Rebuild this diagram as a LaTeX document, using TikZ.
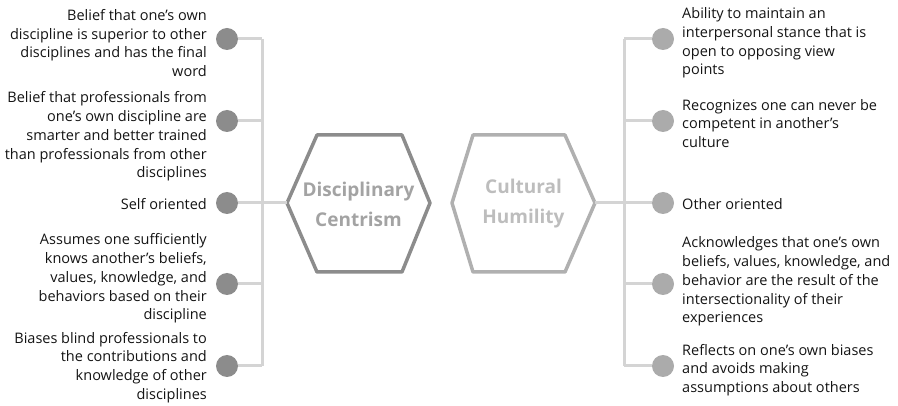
\documentclass[tikz,border=0pt]{standalone}
\usepackage{fontspec}
\setmainfont{Open Sans}
\usetikzlibrary{positioning}
\definecolor{dotdark}{HTML}{8C8C8C}
\definecolor{dotlight}{HTML}{ABABAB}
\definecolor{hexdark}{HTML}{8C8C8C}
\definecolor{hexlight}{HTML}{B0B0B0}
\definecolor{titledark}{HTML}{A3A3A3}
\definecolor{titlelight}{HTML}{BDBDBD}
\definecolor{branch}{HTML}{D4D4D4}
\newcommand{\itemfont}{\fontsize{14.5}{18.8}\selectfont}
\newcommand{\titlefont}{\fontsize{19}{30}\selectfont\bfseries}

\tikzset{
  dotL/.style={circle, fill=dotdark, minimum size=22pt, inner sep=0pt},
  dotR/.style={circle, fill=dotlight, minimum size=22pt, inner sep=0pt},
  textL/.style={anchor=east, align=right, inner sep=0pt, font=\itemfont, text=black!92},
  textR/.style={anchor=west, align=left, inner sep=0pt, font=\itemfont, text=black!92},
  branchline/.style={draw=branch, line width=3pt},
  hexline/.style={line width=3.5pt, line join=round},
}

\begin{document}
\begin{tikzpicture}[x=1pt, y=-1pt]
  \useasboundingbox (0,0) rectangle (898,406);

  % spines
  \coordinate (spineLtop) at (262,39);
  \coordinate (spineLbot) at (262,366);
  \coordinate (spineRtop) at (624,39);
  \coordinate (spineRbot) at (624,366);
  \draw[branchline] (spineLtop) -- (spineLbot);
  \draw[branchline] (spineRtop) -- (spineRbot);

  % hexagon: Disciplinary Centrism
  \coordinate (dcW) at (287,203);
  \coordinate (dcE) at (430,203);
  \draw[hexline, draw=hexdark] (dcW) -- (317,135) -- (402,135) -- (dcE) -- (402,272) -- (317,272) -- cycle;
  \node[font=\titlefont, text=titledark, align=center] (dcTitle) at (358.5,204) {Disciplinary\\Centrism};

  % hexagon: Cultural Humility
  \coordinate (chW) at (452,203);
  \coordinate (chE) at (595,203);
  \draw[hexline, draw=hexlight] (chW) -- (473,135) -- (565,135) -- (chE) -- (565,272) -- (473,272) -- cycle;
  \node[font=\titlefont, text=titlelight, align=center] (chTitle) at (523.5,204) {Cultural\\Humility};

  % hexagons to spines
  \draw[branchline] (dcW) -- (dcW -| spineLtop);
  \draw[branchline] (chE) -- (chE -| spineRtop);

  % left dots
  \node[dotL] (l1) at (227,39) {};
  \node[dotL] (l2) at (227,121) {};
  \node[dotL] (l3) at (227,203) {};
  \node[dotL] (l4) at (227,284) {};
  \node[dotL] (l5) at (227,366) {};
  \foreach \n in {l1,l2,l3,l4,l5}
    \draw[branchline] (\n.east) -- (\n -| spineLtop);

  % right dots
  \node[dotR] (r1) at (663,39) {};
  \node[dotR] (r2) at (663,121) {};
  \node[dotR] (r3) at (663,203) {};
  \node[dotR] (r4) at (663,284) {};
  \node[dotR] (r5) at (663,366) {};
  \foreach \n in {r1,r2,r3,r4,r5}
    \draw[branchline] (\n.west) -- (\n -| spineRtop);

  % left texts
  \node[textL] (lt1) at (207,43) {Belief that one’s own\\discipline is superior to other\\disciplines and has the final\\word};
  \node[textL] (lt2) at (207,136.5) {Belief that professionals from\\one’s own discipline are\\smarter and better trained\\than professionals from other\\disciplines};
  \node[textL] (lt3) at (207,204) {Self oriented};
  \node[textL] (lt4) at (207,278.5) {Assumes one sufficiently\\knows another’s beliefs,\\values, knowledge, and\\behaviors based on their\\discipline};
  \node[textL] (lt5) at (207,367.5) {Biases blind professionals to\\the contributions and\\knowledge of other\\disciplines};

  % right texts
  \node[textR] (rt1) at (682,43) {Ability to maintain an\\interpersonal stance that is\\open to opposing view\\points};
  \node[textR] (rt2) at (682,123.5) {Recognizes one can never be\\competent in another’s\\culture};
  \node[textR] (rt3) at (682,204) {Other oriented};
  \node[textR] (rt4) at (682,281.5) {Acknowledges that one’s own\\beliefs, values, knowledge, and\\behavior are the result of the\\intersectionality of their\\experiences};
  \node[textR] (rt5) at (682,370) {Reflects on one’s own biases\\and avoids making\\assumptions about others};
\end{tikzpicture}
\end{document}
